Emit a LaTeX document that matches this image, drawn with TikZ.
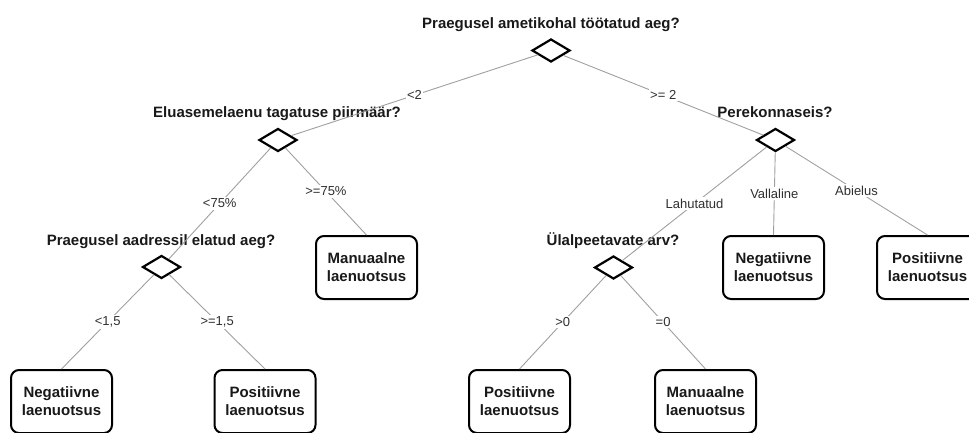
\documentclass[tikz,border=0pt]{standalone}
\usepackage{fontspec}
\setmainfont{Liberation Sans}
\usetikzlibrary{shapes.geometric}
\definecolor{edgegray}{RGB}{160,160,160}
\definecolor{txt}{RGB}{25,25,25}
\tikzset{
  decision/.style={diamond, draw=black, line width=2.2pt, minimum width=38pt, minimum height=23pt, inner sep=0pt},
  question/.style={anchor=base, text=txt, font=\bfseries\fontsize{15}{18}\selectfont, inner sep=0pt},
  leaf/.style={rectangle, rounded corners=8pt, draw=black, line width=2pt, minimum width=101pt, minimum height=63pt, align=center, text=txt, font=\bfseries\fontsize{15}{18}\selectfont, inner sep=0pt},
  conn/.style={draw=edgegray, line width=0.9pt},
  elabel/.style={fill=white, text=txt!90, font=\fontsize{13}{15}\selectfont, inner sep=1.5pt, pos=0.5}
}
\begin{document}
\begin{tikzpicture}[x=1pt,y=-1pt]
\useasboundingbox (0,0) rectangle (969,432);
\clip (0,0) rectangle (969,432);
\fill[white] (0,0) rectangle (969,432);

% decision nodes
\node[decision] (root) at (551,50.5) {};
\node[decision] (A) at (278,140) {};
\node[decision] (B) at (775.5,140) {};
\node[decision] (C) at (161.5,267) {};
\node[decision] (D) at (613.5,267.5) {};

% question texts
\node[question] (qroot) at (551,28) {Praegusel ametikohal töötatud aeg?};
\node[question] (qA) at (277,117) {Eluasemelaenu tagatuse piirmäär?};
\node[question] (qB) at (775,117) {Perekonnaseis?};
\node[question] (qC) at (161,245) {Praegusel aadressil elatud aeg?};
\node[question] (qD) at (613,245) {Ülalpeetavate arv?};

% leaves
\node[leaf] (L1) at (366.5,267.5) {Manuaalne\\laenuotsus};
\node[leaf] (L2) at (773.5,267.5) {Negatiivne\\laenuotsus};
\node[leaf] (L3) at (927.5,267.5) {Positiivne\\laenuotsus};
\node[leaf] (L4) at (61.5,401.5) {Negatiivne\\laenuotsus};
\node[leaf] (L5) at (265,401.5) {Positiivne\\laenuotsus};
\node[leaf] (L6) at (519.5,401.5) {Positiivne\\laenuotsus};
\node[leaf] (L7) at (705.5,401.5) {Manuaalne\\laenuotsus};

% connectors
\draw[conn] (root) -- node[elabel] {<2} (A);
\draw[conn] (root) -- node[elabel] {>= 2} (B);
\draw[conn] (A) -- node[elabel] {<75\%} (C);
\draw[conn] (A) -- node[elabel] {>=75\%} (L1.north);
\draw[conn] (B) -- node[elabel] {Lahutatud} (D);
\draw[conn] (B) -- node[elabel] {Vallaline} (L2.north);
\draw[conn] (B) -- node[elabel] {Abielus} (L3.north);
\draw[conn] (C) -- node[elabel] {<1,5} (L4.north);
\draw[conn] (C) -- node[elabel] {>=1,5} (L5.north);
\draw[conn] (D) -- node[elabel] {>0} (L6.north);
\draw[conn] (D) -- node[elabel] {=0} (L7.north);
\end{tikzpicture}
\end{document}
